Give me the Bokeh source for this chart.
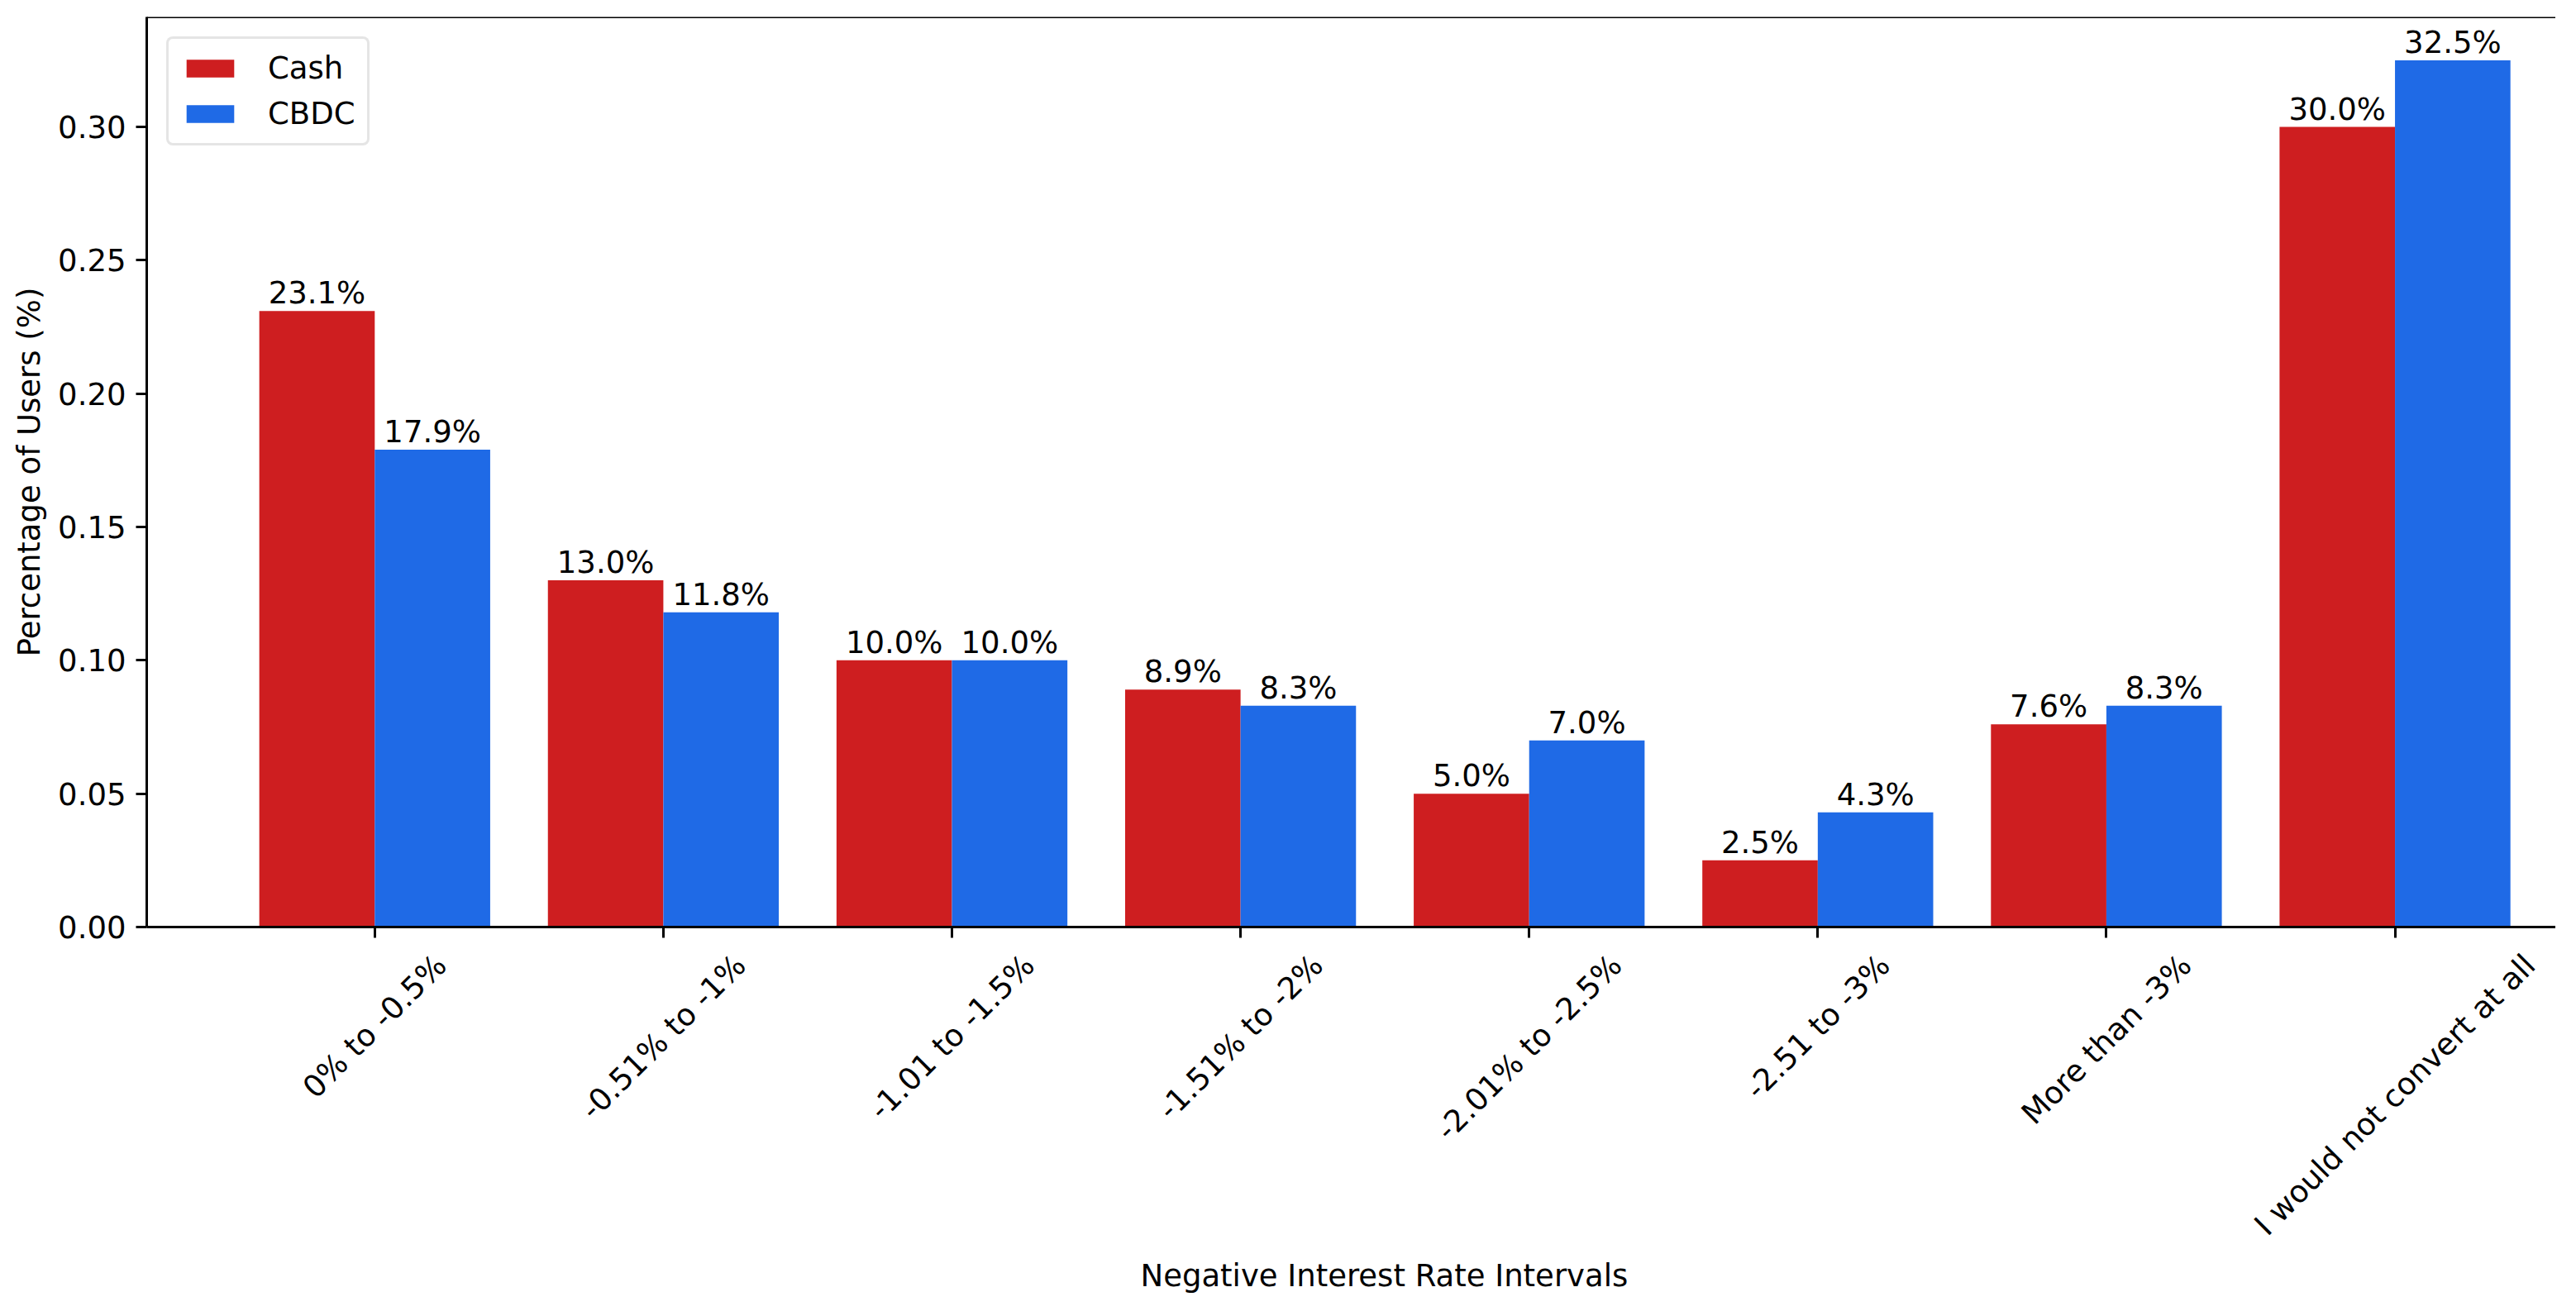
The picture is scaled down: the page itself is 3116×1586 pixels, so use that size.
import math
from bokeh.plotting import figure
from bokeh.models import (ColumnDataSource, Range1d, FixedTicker, PrintfTickFormatter,
                          CustomJSTickFormatter, Span, Legend, LegendItem, Title)
from bokeh.core.properties import value
from bokeh.embed import file_html
from bokeh.resources import INLINE

# ---------------- data ----------------
categories = ["0% to -0.5%", "-0.51% to -1%", "-1.01 to -1.5%", "-1.51% to -2%",
              "-2.01% to -2.5%", "-2.51 to -3%", "More than -3%", "I would not convert at all"]
cash = [0.231, 0.130, 0.100, 0.089, 0.050, 0.025, 0.076, 0.300]
cbdc = [0.179, 0.118, 0.100, 0.083, 0.070, 0.043, 0.083, 0.325]
series_names = ["Cash", "CBDC"]
y_ticks = [0.00, 0.05, 0.10, 0.15, 0.20, 0.25, 0.30]
x_title = "Negative Interest Rate Intervals"
y_title = "Percentage of Users (%)"

# ---------------- style / layout ----------------
RED = "#CE1E20"
BLUE = "#1F6AE6"
FONT = "DejaVu Sans"
FS = 37
W, H = 3091, 1570
MB_L, MB_T, MB_B, MB_R = 177, 20, 449, 0
X0, X1 = -0.79, 7.557
Y1 = max(max(cash), max(cbdc)) * 1.05
BAR_W = 0.4
TICK_OUT = 13
PAD = 12

ppx = (W - MB_L - MB_R) / (X1 - X0)  # pixels per x data unit

# approximate DejaVu Sans advance widths (em), used to centre rotated labels / title
_adv = {'%': 0.950, ' ': 0.318, '-': 0.361, '.': 0.318, 't': 0.392, 'o': 0.612,
        'M': 0.863, 'r': 0.411, 'e': 0.615, 'h': 0.634, 'a': 0.613, 'n': 0.634,
        'I': 0.295, 'w': 0.818, 'u': 0.634, 'l': 0.278, 'd': 0.635, 'c': 0.550, 'v': 0.592,
        'N': 0.748, 'g': 0.635, 'i': 0.278, 's': 0.521, 'R': 0.695}


def text_px(s):
    return sum(_adv.get(ch, 0.636) for ch in s) * FS


idx = list(range(len(categories)))
src = ColumnDataSource(dict(
    x_cash=[i - BAR_W / 2 for i in idx],
    x_cbdc=[i + BAR_W / 2 for i in idx],
    cash=cash, cbdc=cbdc,
    cash_lbl=[f"{v * 100:.1f}%" for v in cash],
    cbdc_lbl=[f"{v * 100:.1f}%" for v in cbdc],
))

p = figure(width=W, height=H, output_backend="svg", toolbar_location=None,
           x_range=Range1d(X0, X1), y_range=Range1d(0, Y1),
           min_border_left=MB_L, min_border_top=MB_T,
           min_border_bottom=MB_B, min_border_right=MB_R)
p.outline_line_color = None
p.background_fill_color = "white"
p.border_fill_color = "white"
p.xgrid.visible = False
p.ygrid.visible = False

r1 = p.vbar(x="x_cash", top="cash", width=BAR_W, source=src, fill_color=RED, line_color=None)
r2 = p.vbar(x="x_cbdc", top="cbdc", width=BAR_W, source=src, fill_color=BLUE, line_color=None)

for xf, yf, tf in (("x_cash", "cash", "cash_lbl"), ("x_cbdc", "cbdc", "cbdc_lbl")):
    p.text(x=xf, y=yf, text=tf, source=src, text_align="center", text_baseline="bottom",
           text_font=value(FONT), text_font_size=f"{FS}px", text_color="black")

# axes
for ax in (p.xaxis[0], p.yaxis[0]):
    ax.axis_line_color = "black"
    ax.axis_line_width = 3
    ax.major_tick_line_color = "black"
    ax.major_tick_line_width = 3
    ax.major_tick_out = TICK_OUT
    ax.major_tick_in = 0
    ax.minor_tick_line_color = None
    ax.major_label_text_font = FONT
    ax.major_label_text_font_size = f"{FS}px"
    ax.major_label_text_color = "black"
    ax.major_label_standoff = PAD
    ax.axis_label_text_font = FONT
    ax.axis_label_text_font_size = f"{FS}px"
    ax.axis_label_text_font_style = "normal"
    ax.axis_label_text_color = "black"

# x axis: visible tick marks (minor ticks) at each category; labels carried by
# invisible major ticks shifted so each rotated label's box is centred under its tick
shift = [text_px(c) / (2 * math.sqrt(2)) / ppx for c in categories]
label_ticks = [i + s for i, s in zip(idx, shift)]
xa = p.xaxis[0]
xa.ticker = FixedTicker(ticks=label_ticks, minor_ticks=idx)
xa.formatter = CustomJSTickFormatter(args=dict(pos=label_ticks, labels=categories), code="""
    let best = 0, bd = 1e9;
    for (let i = 0; i < pos.length; i++) {
        const d = Math.abs(pos[i] - tick);
        if (d < bd) { bd = d; best = i; }
    }
    return labels[best];
""")
xa.major_tick_line_color = None
xa.minor_tick_line_color = "black"
xa.minor_tick_line_width = 3
xa.minor_tick_out = TICK_OUT
xa.minor_tick_in = 0
xa.major_label_orientation = math.pi / 4
xa.major_label_standoff = 27

# x title, centred on the category span (as in the original, whose frame runs past the crop)
center_px = ((idx[0] + idx[-1]) / 2 - X0) * ppx
p.add_layout(Title(text=x_title, align="left", offset=round(center_px - text_px(x_title) / 2),
                   vertical_align="top", standoff=0,
                   text_font=FONT, text_font_size=f"{FS}px", text_font_style="normal",
                   text_color="black"), "below")

ya = p.yaxis[0]
ya.ticker = FixedTicker(ticks=y_ticks)
ya.formatter = PrintfTickFormatter(format="%.2f")
ya.axis_label = y_title
ya.axis_label_standoff = 10

# top spine
p.add_layout(Span(location=Y1, dimension="width", line_color="black", line_width=3))

legend = Legend(items=[LegendItem(label=series_names[0], renderers=[r1]),
                       LegendItem(label=series_names[1], renderers=[r2])],
                location="top_left")
legend.margin = 24
legend.padding = 14
legend.spacing = 12
legend.glyph_width = 72
legend.glyph_height = 27
legend.label_height = 27
legend.label_standoff = 34
legend.label_text_font = FONT
legend.label_text_font_size = f"{FS}px"
legend.label_text_color = "black"
legend.border_line_color = "#cccccc"
legend.border_line_width = 3
legend.background_fill_alpha = 0.8
if "border_radius" in legend.properties():
    legend.border_radius = 8
p.add_layout(legend)

open("out.html", "w").write(file_html(p, INLINE))
